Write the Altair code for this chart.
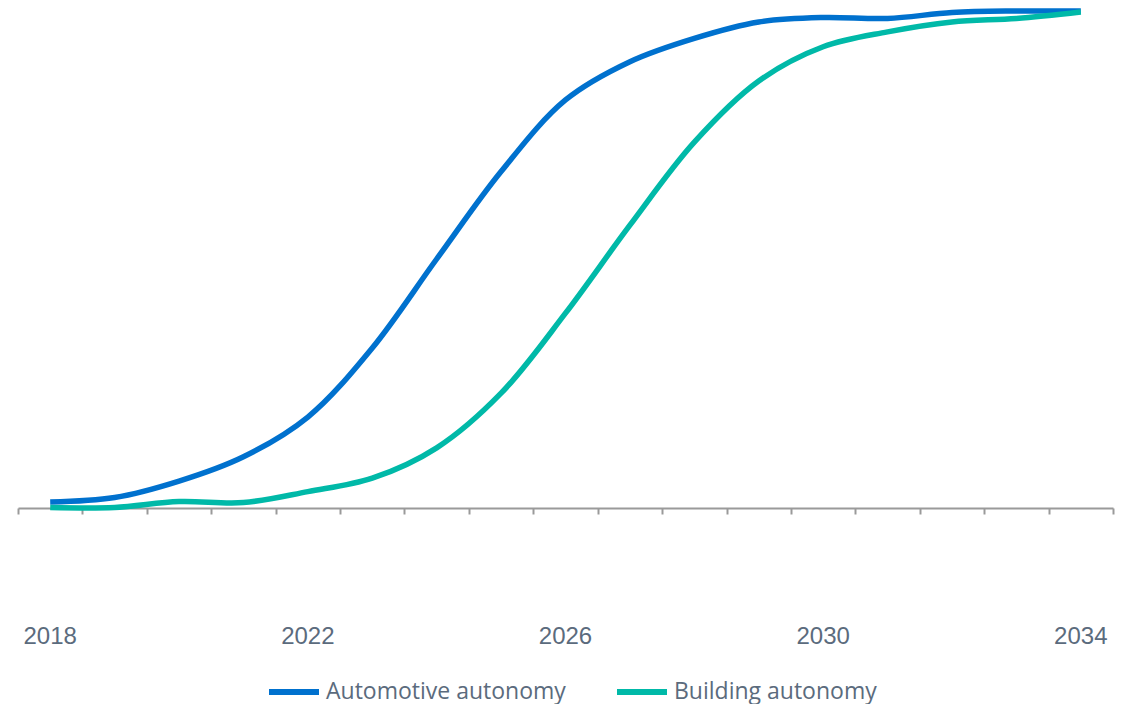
import altair as alt
import pandas as pd

years = list(range(2018, 2035))
automotive = [1.2, 2.1, 5.4, 10.3, 18.3, 32.2, 50.1, 67.7, 82.1, 89.8, 94.5, 97.8, 98.7, 98.5, 99.7, 100.0, 100.0]
building = [0.1, 0.1, 1.3, 1.1, 3.3, 6.0, 12.1, 23.1, 39.2, 56.9, 73.6, 85.9, 92.8, 95.8, 97.8, 98.5, 99.8]
series_names = ["Automotive autonomy", "Building autonomy"]
series_colors = ["#0071CE", "#00B9A8"]
label_years = [2018, 2022, 2026, 2030, 2034]
tick_positions = [y - 0.5 for y in range(2018, 2036)]

rows = []
for y, a, b in zip(years, automotive, building):
    rows.append({"year": y, "value": a, "series": series_names[0]})
    rows.append({"year": y, "value": b, "series": series_names[1]})
df = pd.DataFrame(rows)
labels_df = pd.DataFrame({"year": label_years, "label": [str(y) for y in label_years]})

label_color = "#5B6B7D"

x_scale = alt.Scale(domain=[2017.5, 2034.5], nice=False, zero=False)

lines = alt.Chart(df).mark_line(strokeWidth=5.5, interpolate="catmull-rom").encode(
    x=alt.X("year:Q", scale=x_scale,
            axis=alt.Axis(values=tick_positions, labels=False, title=None, grid=False,
                          ticks=True, tickSize=6, tickWidth=2, tickColor="#9A9A9A",
                          domainColor="#9A9A9A", domainWidth=2)),
    y=alt.Y("value:Q", scale=alt.Scale(domain=[0, 100], nice=False), axis=None),
    color=alt.Color("series:N",
                    scale=alt.Scale(domain=series_names, range=series_colors),
                    legend=alt.Legend(title=None, orient="none", direction="horizontal",
                                      legendX=248, legendY=653,
                                      symbolType="stroke", symbolSize=2500,
                                      symbolStrokeWidth=6, labelFont="Open Sans",
                                      labelFontSize=23, labelColor=label_color,
                                      labelLimit=400,
                                      labelOffset=4, columnPadding=39)),
)

texts = alt.Chart(labels_df).mark_text(font="Liberation Sans", fontSize=24,
                                        color=label_color, baseline="middle").encode(
    x=alt.X("year:Q", scale=x_scale),
    y=alt.value(626),
    text="label:N",
)

chart = alt.layer(lines, texts).properties(
    width=1095, height=497,
    background="white",
    autosize=alt.AutoSizeParams(type="none"),
    padding={"left": 18, "top": 11, "right": 14, "bottom": 196},
).configure_view(strokeWidth=0, stroke="transparent")

chart.save("out.html", embed_options={"renderer": "svg", "actions": False})
